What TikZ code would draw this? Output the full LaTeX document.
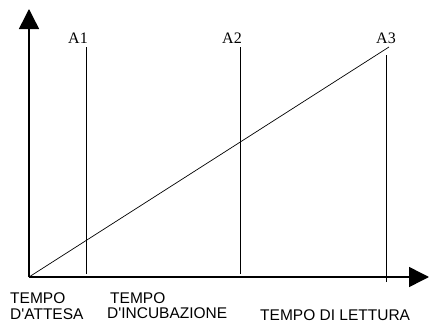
\documentclass[tikz,border=0pt]{standalone}
\usepackage{fontspec}
\setmainfont{Liberation Serif}
\newfontfamily\axisfont{Liberation Sans}
\usepackage{tikz}
\usetikzlibrary{arrows.meta}
\tikzset
{
  axis/.style={draw=black,line width=1.5pt,-{Triangle[length=20pt,width=20pt]}},
  marker/.style={draw=black,line width=0.7pt},
  tag/.style={inner sep=0pt,font=\fontsize{16}{18}\selectfont},
  caption/.style={inner sep=0pt,anchor=base west,font=\axisfont\fontsize{15.5}{17}\selectfont}
}

\begin{document}
\begin{tikzpicture}[x=1pt,y=1pt]
        \useasboundingbox (0,0) rectangle (429,325);

        % Draw axes
        \coordinate (O) at (29,48);
        \coordinate (ytip) at (29,316);
        \coordinate (xtip) at (429,48);
        \draw[axis] (O) -- (ytip);
        \draw[axis] (O) -- (xtip);

        % Reading times
        \coordinate (a1bot) at (86,51);
        \coordinate (a1top) at (86,278);
        \coordinate (a2bot) at (240,51);
        \coordinate (a2top) at (240,278);
        \coordinate (a3bot) at (386,43);
        \coordinate (a3top) at (386,270);
        \draw[marker] (a1bot) -- (a1top);
        \draw[marker] (a2bot) -- (a2top);
        \draw[marker] (a3bot) -- (a3top);
        \node[tag] (A1) at (78,287) {A1};
        \node[tag] (A2) at (232,287) {A2};
        \node[tag] (A3) at (386,287) {A3};

        % Signal line
        \coordinate (send) at (389,278);
        \draw[marker] (O) -- (send);

        % Phases
        \node[caption] (attesa1) at (10,22) {TEMPO};
        \node[caption] (attesa2) at (10,6) {D'ATTESA};
        \node[caption] (incub1) at (110,22) {TEMPO};
        \node[caption] (incub2) at (107,7) {D'INCUBAZIONE};
        \node[caption] (lettura) at (260,5) {TEMPO DI LETTURA};
    \end{tikzpicture}
\end{document}
